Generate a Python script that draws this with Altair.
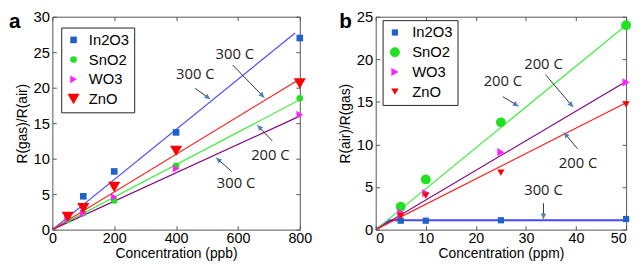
import math
import altair as alt
import pandas as pd

SERIES = ["In2O3", "SnO2", "WO3", "ZnO"]

# ---- panel a (ppb) ----
A_CONC = [50, 100, 200, 400, 800]
A_IN2O3 = [2.0, 4.7, 8.2, 13.7, 27.0]
A_SNO2 = [1.4, 2.3, 4.1, 9.0, 18.5]
A_WO3 = [1.5, 2.3, 4.6, 8.6, 16.2]
A_ZNO = [1.8, 3.0, 6.0, 11.1, 20.6]
A_FIT_X = [[0, 785], [0, 800], [0, 800], [0, 795]]
A_FIT_Y = [[0, 27.7], [0, 18.3], [0, 16.0], [0, 21.1]]
A_ANN_TEXT = ["300 C", "300 C", "200 C", "300 C"]
A_ANN_X = [462, 590, 705, 594]
A_ANN_Y = [21.9, 24.8, 10.5, 6.6]
A_ARR_X1 = [462, 583, 711, 580]
A_ARR_Y1 = [19.9, 23.2, 12.5, 8.2]
A_ARR_X2 = [510, 685, 663, 530]
A_ARR_Y2 = [18.4, 18.6, 14.7, 10.1]
A_XTICKS = [0, 200, 400, 600, 800]
A_YTICKS = [0, 5, 10, 15, 20, 25, 30]

# ---- panel b (ppm) ----
B_CONC = [5, 10, 25, 50]
B_IN2O3 = [1.05, 1.05, 1.1, 1.25]
B_SNO2 = [2.7, 5.9, 12.6, 24.0]
B_WO3 = [2.0, 4.3, 9.1, 17.3]
B_ZNO = [1.6, 4.0, 6.7, 14.7]
B_FIT_X = [[0, 2.8, 50], [0, 50], [0, 50], [0, 50]]
B_FIT_Y = [[0, 1.1, 1.1], [0, 24.0], [0, 17.4], [0, 14.9]]
B_ANN_TEXT = ["200 C", "200 C", "200 C", "300 C"]
B_ANN_X = [25.4, 33.5, 40.4, 33.5]
B_ANN_Y = [17.4, 19.4, 7.8, 4.7]
B_ARR_X1 = [25.4, 33.9, 40.3, 33.5]
B_ARR_Y1 = [15.6, 18.2, 9.5, 3.1]
B_ARR_X2 = [28.5, 39.4, 37.6, 33.5]
B_ARR_Y2 = [14.5, 14.4, 11.4, 1.25]
B_XTICKS = [0, 10, 20, 30, 40, 50]
B_YTICKS = [0, 5, 10, 15, 20, 25]

POINT_COLORS = ["#1f62c9", "#22e022", "#ff22ff", "#ff0000"]
LINE_COLORS = ["#4848ff", "#44ee44", "#800080", "#ff1a1a"]
SHAPES = ["square", "circle", "triangle-right", "triangle-down"]
ARROW_HEAD = "M0,0L-0.5,1L0.5,1Z"

FONT = "Liberation Sans"
H = 216


def panel(conc, vals, fit_x, fit_y, ann_text, ann_x, ann_y, ax1, ay1, ax2, ay2,
          xdom, ydom, xticks, yticks, xtitle, ytitle, sizes, letter, letter_x,
          letter_y, leg_x, leg_y, leg_off, line_widths, width, flush):
    xs = alt.Scale(domain=xdom, nice=False, zero=False)
    ys = alt.Scale(domain=ydom, nice=False, zero=False)

    pts = pd.DataFrame([
        {"series": s, "c": c, "v": v}
        for s, vv in zip(SERIES, vals) for c, v in zip(conc, vv)
    ])
    ann = pd.DataFrame({"t": ann_text, "x": ann_x, "y": ann_y})
    xr = xdom[1] - xdom[0]
    yr = ydom[1] - ydom[0]
    angs = [
        math.degrees(math.atan2((x2 - x1) * width / xr, (y2 - y1) * H / yr)) % 360
        for x1, y1, x2, y2 in zip(ax1, ay1, ax2, ay2)
    ]
    arr = pd.DataFrame({"x1": ax1, "y1": ay1, "x2": ax2, "y2": ay2, "ang": angs})

    main_x = alt.Axis(values=xticks, title=xtitle, ticks=False, domain=False, grid=False,
                      labelFontSize=14.5, titleFontSize=14, labelFont=FONT, titleFont=FONT,
                      labelColor="black", titleColor="black", titleFontWeight="normal",
                      labelPadding=2, titlePadding=2, labelFlush=flush)
    main_y = alt.Axis(values=yticks, title=ytitle, ticks=False, domain=False, grid=False,
                      labelFontSize=15, titleFontSize=14, labelFont=FONT, titleFont=FONT,
                      labelColor="black", titleColor="black", titleFontWeight="normal",
                      labelPadding=3, titlePadding=4, labelFlush=False)

    def tick_axis(vals_, orient, offset):
        return alt.Axis(values=vals_, orient=orient, offset=offset, labels=False, title=None,
                        domain=False, grid=False, ticks=True, tickSize=4, tickColor="#555")

    layers = []
    for i, s in enumerate(SERIES):
        df = pd.DataFrame({"c": fit_x[i], "v": fit_y[i]})
        enc_x = alt.X("c:Q", scale=xs, axis=main_x if i == 0 else None)
        enc_y = alt.Y("v:Q", scale=ys, axis=main_y if i == 0 else None)
        layers.append(alt.Chart(df).mark_line(color=LINE_COLORS[i], strokeWidth=line_widths[i],
                                              clip=True).encode(x=enc_x, y=enc_y))

    leg = alt.Legend(title=None, orient="none", legendX=leg_x, legendY=leg_y,
                     strokeColor="#222", fillColor="white", padding=5, labelFontSize=15,
                     labelFont=FONT, labelColor="black", rowPadding=4,
                     symbolStrokeWidth=0, labelOffset=leg_off, cornerRadius=0)
    points = alt.Chart(pts).mark_point(filled=True, opacity=1).encode(
        x=alt.X("c:Q", scale=xs, axis=tick_axis(xticks, "top", -H)),
        y=alt.Y("v:Q", scale=ys, axis=tick_axis(yticks, "right", -width)),
        color=alt.Color("series:N", scale=alt.Scale(domain=SERIES, range=POINT_COLORS), legend=leg),
        shape=alt.Shape("series:N", scale=alt.Scale(domain=SERIES, range=SHAPES), legend=leg),
        size=alt.Size("series:N", scale=alt.Scale(type="ordinal", domain=SERIES, range=sizes), legend=leg),
    )
    layers.append(points)

    rules = alt.Chart(arr).mark_rule(color="#333", strokeWidth=1).encode(
        x=alt.X("x1:Q", scale=xs, axis=None), y=alt.Y("y1:Q", scale=ys, axis=None),
        x2="x2:Q", y2="y2:Q")
    heads = alt.Chart(arr).mark_point(shape=ARROW_HEAD, filled=True, color="#4a7fb8",
                                      opacity=1, size=120).encode(
        x=alt.X("x2:Q", scale=xs, axis=None), y=alt.Y("y2:Q", scale=ys, axis=None),
        angle=alt.Angle("ang:Q", scale=None))
    texts = alt.Chart(ann).mark_text(font="Open Sans", fontSize=15, color="#222",
                                     baseline="middle", align="center").encode(
        x=alt.X("x:Q", scale=xs, axis=tick_axis(xticks, "bottom", -H)),
        y=alt.Y("y:Q", scale=ys, axis=tick_axis(yticks, "left", -width)),
        text="t:N")
    lab = alt.Chart(pd.DataFrame({"t": [letter]})).mark_text(
        font=FONT, fontSize=21, fontWeight="bold", color="black", align="left",
        baseline="top").encode(x=alt.value(letter_x), y=alt.value(letter_y), text="t:N")
    layers += [rules, heads, texts, lab]

    return alt.layer(*layers).resolve_axis(x="independent", y="independent").properties(
        width=width, height=H)


pa = panel(A_CONC, [A_IN2O3, A_SNO2, A_WO3, A_ZNO], A_FIT_X, A_FIT_Y,
           A_ANN_TEXT, A_ANN_X, A_ANN_Y, A_ARR_X1, A_ARR_Y1, A_ARR_X2, A_ARR_Y2,
           [0, 800], [0, 30], A_XTICKS, A_YTICKS, "Concentration (ppb)", "R(gas)/R(air)",
           [45, 45, 60, 150], "a", -44, -5.5, 9, 11, 8, [1.2, 1.2, 1.2, 1.2], 251, False)
pb = panel(B_CONC, [B_IN2O3, B_SNO2, B_WO3, B_ZNO], B_FIT_X, B_FIT_Y,
           B_ANN_TEXT, B_ANN_X, B_ANN_Y, B_ARR_X1, B_ARR_Y1, B_ARR_X2, B_ARR_Y2,
           [0, 50], [0, 25], B_XTICKS, B_YTICKS, "Concentration (ppm)", "R(air)/R(gas)",
           [40, 100, 70, 55], "b", -37, -5.5, 7, 3.5, 10, [2.0, 1.2, 1.2, 1.2], 254, True)

chart = alt.hconcat(pa, pb, spacing=25).resolve_scale(
    color="independent", shape="independent", size="independent"
).properties(
    padding={"left": 0, "top": -1, "right": 0, "bottom": 0}
).configure_view(stroke="#555", strokeWidth=1)

chart.save("out.html", embed_options={"renderer": "svg", "actions": False})
